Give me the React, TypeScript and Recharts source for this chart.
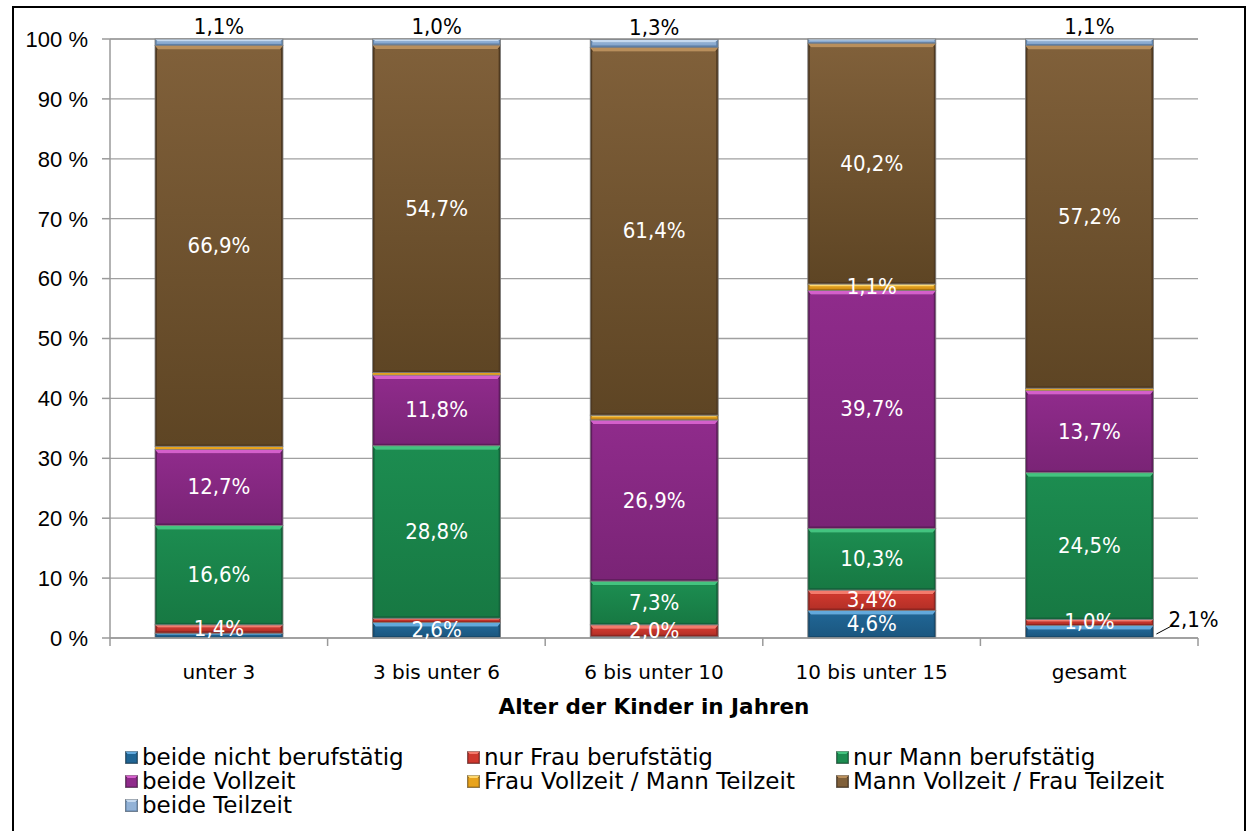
import React from 'react';
import { BarChart, Bar, XAxis, YAxis, CartesianGrid, Legend, LabelList } from 'recharts';

// Age groups of the children
const categories = ['unter 3', '3 bis unter 6', '6 bis unter 10', '10 bis unter 15', 'gesamt'];

// Shares (%) per employment pattern of the parents
const beideNicht = [0.8, 2.6, 0.2, 4.6, 2.1];
const nurFrau = [1.4, 0.7, 2.0, 3.4, 1.0];
const nurMann = [16.6, 28.8, 7.3, 10.3, 24.5];
const beideVoll = [12.7, 11.8, 26.9, 39.7, 13.7];
const frauVollMannTeil = [0.5, 0.4, 0.8, 1.1, 0.4];
const mannVollFrauTeil = [66.9, 54.7, 61.4, 40.2, 57.2];
const beideTeil = [1.1, 1.0, 1.3, 0.7, 1.1];

const yTicks = [0, 10, 20, 30, 40, 50, 60, 70, 80, 90, 100];

// values below this are not labelled
const minLabel = 1.0;
// categories whose "beide nicht berufstätig" label sits outside the bar
const outsideLabelCats = ['gesamt'];

type Palette = { base: string; light: string; dark: string; bottom: string };

const series: { key: string; name: string; values: number[]; pal: Palette }[] = [
  { key: 'bn', name: 'beide nicht berufstätig', values: beideNicht, pal: { base: '#206594', light: '#62a9dc', dark: '#174a6d', bottom: '#1b5780' } },
  { key: 'nf', name: 'nur Frau berufstätig', values: nurFrau, pal: { base: '#cf382e', light: '#f47a6c', dark: '#8f2520', bottom: '#b53027' } },
  { key: 'nm', name: 'nur Mann berufstätig', values: nurMann, pal: { base: '#1c8c50', light: '#43c47f', dark: '#13633a', bottom: '#177943' } },
  { key: 'bv', name: 'beide Vollzeit', values: beideVoll, pal: { base: '#8f2b8b', light: '#d45fcb', dark: '#5e1d5c', bottom: '#7a2476' } },
  { key: 'fm', name: 'Frau Vollzeit / Mann Teilzeit', values: frauVollMannTeil, pal: { base: '#e8a31c', light: '#ffd86e', dark: '#a8720e', bottom: '#d4921a' } },
  { key: 'mf', name: 'Mann Vollzeit / Frau Teilzeit', values: mannVollFrauTeil, pal: { base: '#80603a', light: '#b98f5c', dark: '#4f3920', bottom: '#5e4524' } },
  { key: 'bt', name: 'beide Teilzeit', values: beideTeil, pal: { base: '#92b2d7', light: '#c6daf0', dark: '#5f80a6', bottom: '#86a6cc' } },
];

const data = categories.map((cat, i) => {
  const row: Record<string, string | number> = { cat };
  series.forEach((s) => {
    row[s.key] = s.values[i];
  });
  return row;
});

const fmt = (v: number) => v.toFixed(1).replace('.', ',') + '%';

const LABEL_FONT = '"DejaVu Sans Condensed", "DejaVu Sans", sans-serif';
const TEXT_FONT = '"DejaVu Sans", sans-serif';
const LABEL_SIZE = 22;

// Beveled bar segment
const makeShape = (key: string, pal: Palette) => (props: any) => {
  const { x, y, width, height } = props;
  if (!height || height <= 0) return <g />;
  if (height < 3) {
    return <rect x={x} y={y} width={width} height={height} fill={pal.base} stroke="#7f7f7f" strokeWidth={0.5} />;
  }
  const b = Math.min(4, height / 3);
  const s = Math.min(2, height / 4);
  return (
    <g>
      <rect x={x} y={y} width={width} height={height} fill={pal.dark} />
      <rect x={x + s} y={y + b} width={width - 2 * s} height={height - b - s} fill={`url(#grad-${key})`} />
      <polygon
        points={`${x},${y} ${x + width},${y} ${x + width - s - 1},${y + b} ${x + s + 1},${y + b}`}
        fill={pal.light}
      />
      <rect x={x} y={y} width={width} height={height} fill="none" stroke="#7f7f7f" strokeWidth={0.8} />
    </g>
  );
};

const makeLabel = (idx: number) => (props: any) => {
  const { x, y, width, height, index } = props;
  const s = series[idx];
  const v = s.values[index];
  if (v < minLabel) return null;
  const cx = x + width / 2;
  if (s.key === 'bt') {
    return (
      <text x={cx} y={y - 5} textAnchor="middle" fontFamily={LABEL_FONT} fontSize={LABEL_SIZE} fill="#000">
        {fmt(v)}
      </text>
    );
  }
  if (s.key === 'bn' && outsideLabelCats.includes(categories[index])) {
    const right = x + width;
    const bottom = y + height;
    return (
      <g>
        <line x1={right + 3} y1={bottom - 4} x2={right + 20} y2={bottom - 13} stroke="#000" strokeWidth={1} />
        <text x={right + 15} y={bottom - 11} textAnchor="start" fontFamily={LABEL_FONT} fontSize={LABEL_SIZE} fill="#000">
          {fmt(v)}
        </text>
      </g>
    );
  }
  return (
    <text x={cx} y={y + height / 2 + 7} textAnchor="middle" fontFamily={LABEL_FONT} fontSize={LABEL_SIZE} fill="#fff">
      {fmt(v)}
    </text>
  );
};

const CategoryTick = (props: any) => {
  const { x, y, payload, index } = props;
  const band = 1088 / categories.length;
  const left = x - band / 2;
  return (
    <g>
      <line x1={left} y1={y} x2={left} y2={y + 8} stroke="#9a9a9a" strokeWidth={1.5} />
      {index === categories.length - 1 && (
        <line x1={x + band / 2} y1={y} x2={x + band / 2} y2={y + 8} stroke="#9a9a9a" strokeWidth={1.5} />
      )}
      <text x={x} y={y + 41} textAnchor="middle" fontFamily={TEXT_FONT} fontSize={20} fill="#000">
        {payload.value}
      </text>
    </g>
  );
};

const LegendMarker = ({ pal }: { pal: Palette }) => (
  <svg width={13} height={13} style={{ display: 'block' }}>
    <rect x={0} y={0} width={13} height={13} fill={pal.dark} />
    <rect x={1.5} y={3} width={10} height={8.5} fill={pal.base} />
    <polygon points="0,0 13,0 10.5,3 2.5,3" fill={pal.light} />
    <rect x={0.25} y={0.25} width={12.5} height={12.5} fill="none" stroke="#7f7f7f" strokeWidth={0.5} />
  </svg>
);

const legendCols = [125, 467, 836];
const legendRows = [745, 769, 793];

const renderLegend = () => (
  <div style={{ position: 'relative', width: 1249, height: 80 }}>
    {series.map((s, i) => (
      <div
        key={s.key}
        style={{
          position: 'absolute',
          left: legendCols[i % 3],
          top: legendRows[Math.floor(i / 3)] - 740,
          display: 'flex',
          alignItems: 'center',
          height: 24,
          whiteSpace: 'nowrap',
        }}
      >
        <LegendMarker pal={s.pal} />
        <span style={{ marginLeft: 4, fontFamily: TEXT_FONT, fontSize: 23, color: '#000', lineHeight: '24px' }}>
          {s.name}
        </span>
      </div>
    ))}
  </div>
);

export default function App() {
  return (
    <div style={{ position: 'absolute', left: 0, top: 0, width: 1249, height: 831, background: '#fff', overflow: 'hidden' }}>
      <div
        style={{
          position: 'absolute',
          left: 12,
          top: 6,
          width: 1230,
          height: 840,
          border: '2px solid #000',
        }}
      />
      <div style={{ position: 'absolute', left: 0, top: 0 }}>
        <BarChart
          width={1249}
          height={831}
          data={data}
          margin={{ top: 39, right: 51, left: 10, bottom: 109 }}
          barSize={128}
        >
          <defs>
            {series.map((s) => (
              <linearGradient key={s.key} id={`grad-${s.key}`} x1="0" y1="0" x2="0" y2="1">
                <stop offset="0%" stopColor={s.pal.base} />
                <stop offset="100%" stopColor={s.pal.bottom} />
              </linearGradient>
            ))}
          </defs>
          <CartesianGrid vertical={false} stroke="#a0a0a0" strokeWidth={1.3} />
          <XAxis
            dataKey="cat"
            height={84}
            tickSize={0}
            tickMargin={0}
            tick={<CategoryTick />}
            axisLine={{ stroke: '#9a9a9a', strokeWidth: 1.5 }}
            tickLine={false}
            interval={0}
            label={{
              value: 'Alter der Kinder in Jahren',
              position: 'insideBottom',
              offset: 8,
              style: { fontFamily: TEXT_FONT, fontSize: 21.5, fontWeight: 'bold', fill: '#000' },
            }}
          />
          <YAxis
            width={100}
            domain={[0, 100]}
            ticks={yTicks}
            interval={0}
            tickFormatter={(v: number) => `${v} %`}
            tickSize={8}
            tickMargin={14}
            axisLine={{ stroke: '#9a9a9a', strokeWidth: 1.5 }}
            tickLine={{ stroke: '#9a9a9a', strokeWidth: 1.5 }}
            tick={{ fontFamily: '"Liberation Sans", Arial, sans-serif', fontSize: 22, fill: '#000' }}
          />
          <Legend
            layout="horizontal"
            verticalAlign="middle"
            align="center"
            content={renderLegend}
            wrapperStyle={{ position: 'absolute', left: 0, top: 740, width: 1249, height: 80 }}
          />
          {series.map((s, i) => (
            <Bar
              key={s.key}
              dataKey={s.key}
              name={s.name}
              stackId="a"
              fill={s.pal.base}
              shape={makeShape(s.key, s.pal)}
              isAnimationActive={false}
            >
              <LabelList dataKey={s.key} content={makeLabel(i)} />
            </Bar>
          ))}
        </BarChart>
      </div>
    </div>
  );
}
